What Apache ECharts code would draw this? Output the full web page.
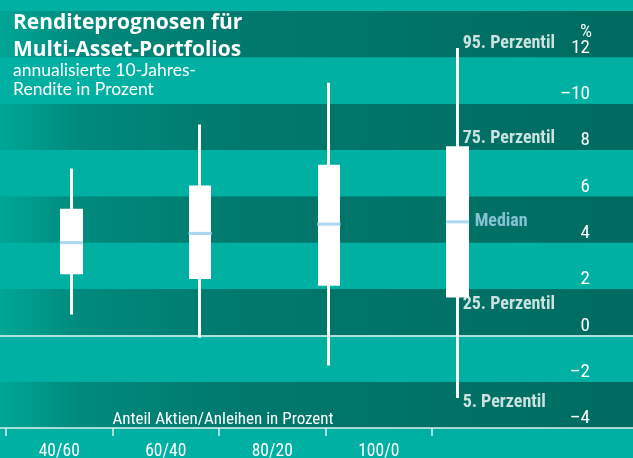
<!DOCTYPE html>
<html>
<head>
<meta charset="utf-8">
<title>Renditeprognosen</title>
<script src="https://cdn.jsdelivr.net/npm/echarts@6/dist/echarts.min.js"></script>
<style>
  html, body { margin: 0; padding: 0; }
  #chart { width: 633px; height: 458px; }
</style>
</head>
<body>
<div id="chart"></div>
<script>
// Daten (annualisierte 10-Jahres-Rendite, %)
const categories = ['40/60', '60/40', '80/20', '100/0']
const p5 = [0.9, -0.1, -1.3, -2.7]
const p25 = [2.7, 2.5, 2.2, 1.7]
const median = [4.0, 4.4, 4.8, 4.9]
const p75 = [5.4, 6.4, 7.3, 8.1]
const p95 = [7.2, 9.1, 10.9, 12.4]
const yTicks = [-4, -2, 0, 2, 4, 6, 8, 10, 12]
const yTickLabels = ['–4', '–2', '0', '2', '4', '6', '8', '–10', '12']
const percentileNames = ['95. Perzentil', '75. Perzentil', 'Median', '25. Perzentil', '5. Perzentil']

const narrow = '"Liberation Sans Narrow", "Roboto Condensed", "DejaVu Sans Condensed", sans-serif'
const light = '#00B1A3'
const dark = new echarts.graphic.LinearGradient(0, 0, 1, 0, [
  { offset: 0, color: '#00A696' },
  { offset: 0.12, color: '#008B7E' },
  { offset: 0.35, color: '#007A6E' },
  { offset: 0.65, color: '#007367' },
  { offset: 1, color: '#006B60' }
])

// Beschriftung am letzten Boxplot (100/0)
const last = categories.length - 1
const noteValues = [p95[last], p75[last], median[last], p25[last], p5[last]]
const noteOffsets = [[5, -5], [5, -9], [17, 0], [5, 9], [5, 5]]
const noteData = percentileNames.map((name, i) => ({
  name: name,
  value: [last, noteValues[i]],
  label: {
    offset: noteOffsets[i],
    color: name === 'Median' ? '#A9D7F0' : '#fff'
  }
}))

const chart = echarts.init(document.getElementById('chart'))

const option = {
  backgroundColor: light,
  animation: false,
  title: [
    {
      text: 'Renditeprognosen für\nMulti-Asset-Portfolios',
      left: 8,
      top: 5,
      textStyle: {
        color: '#fff',
        fontFamily: 'Open Sans',
        fontWeight: 'bold',
        fontSize: 21,
        lineHeight: 27
      }
    },
    {
      text: 'annualisierte 10-Jahres-\nRendite in Prozent',
      left: 8,
      top: 56,
      textStyle: {
        color: '#fff',
        fontFamily: 'Lato',
        fontWeight: 'normal',
        fontSize: 17.5,
        lineHeight: 19
      }
    },
    {
      text: '%',
      left: 575,
      top: 18,
      textStyle: {
        color: '#fff',
        fontFamily: narrow,
        fontWeight: 'normal',
        fontSize: 19
      }
    },
    {
      // Achsentitel
      text: 'Anteil Aktien/Anleihen in Prozent',
      left: 218,
      textAlign: 'center',
      top: 406,
      textStyle: {
        color: '#fff',
        fontFamily: narrow,
        fontWeight: 'normal',
        fontSize: 17
      }
    }
  ],
  grid: [
    // Hintergrund, y-Achse, Nulllinie
    { left: 0, right: 0, top: 11, bottom: 30, outerBoundsMode: 'none' },
    // Boxplots
    { left: 7, right: 111, top: 11, bottom: 30, outerBoundsMode: 'none' },
    // Kategorien
    { left: 6, right: 201, top: 11, bottom: 30, outerBoundsMode: 'none' }
  ],
  xAxis: [
    {
      gridIndex: 0,
      type: 'value',
      position: 'top',
      axisLine: { show: true, onZero: true, lineStyle: { color: '#E6F5F3', width: 1.5 } },
      axisTick: { show: false },
      axisLabel: { show: false },
      splitLine: { show: false }
    },
    {
      gridIndex: 0,
      type: 'value',
      position: 'bottom',
      axisLine: { show: true, onZero: false, lineStyle: { color: '#DDF0EE', width: 1.5 } },
      axisTick: { show: false },
      axisLabel: { show: false },
      splitLine: { show: false }
    },
    {
      gridIndex: 1,
      type: 'category',
      data: categories,
      show: false
    },
    {
      gridIndex: 2,
      type: 'category',
      position: 'bottom',
      data: categories,
      axisLine: { show: false, onZero: false },
      axisTick: { show: true, length: 8, lineStyle: { color: '#DDF0EE', width: 1.5 } },
      axisLabel: {
        color: '#fff',
        fontFamily: narrow,
        fontSize: 17.5,
        margin: 15
      }
    }
  ],
  yAxis: [
    {
      gridIndex: 0,
      type: 'value',
      position: 'right',
      min: -4,
      max: 14,
      interval: 2,
      axisLine: { show: false },
      axisTick: { show: false },
      splitLine: { show: false },
      splitArea: {
        show: true,
        areaStyle: { color: [dark, light] }
      },
      axisLabel: {
        inside: true,
        margin: 43,
        align: 'right',
        verticalAlign: 'bottom',
        color: '#fff',
        fontFamily: narrow,
        fontSize: 19,
        formatter: function (v) {
          const i = yTicks.indexOf(v)
          return i >= 0 ? yTickLabels[i] : ''
        }
      }
    },
    {
      gridIndex: 1,
      type: 'value',
      min: -4,
      max: 14,
      interval: 2,
      show: false
    },
    {
      gridIndex: 2,
      type: 'value',
      min: 0,
      max: 1,
      show: false
    }
  ],
  series: [
    {
      name: 'Spanne',
      type: 'candlestick',
      xAxisIndex: 2,
      yAxisIndex: 1,
      barWidth: 20,
      itemStyle: {
        color: '#fff',
        color0: '#fff',
        borderColor: '#fff',
        borderColor0: '#fff',
        borderWidth: 3
      },
      data: categories.map((c, i) => [p25[i], p75[i], p5[i], p95[i]])
    },
    {
      name: 'Median',
      type: 'scatter',
      xAxisIndex: 2,
      yAxisIndex: 1,
      symbol: 'rect',
      symbolSize: [23, 3],
      itemStyle: { color: '#A9D7F0', opacity: 1 },
      data: categories.map((c, i) => [i, median[i]])
    },
    {
      name: 'Perzentile',
      type: 'scatter',
      xAxisIndex: 2,
      yAxisIndex: 1,
      symbolSize: 0,
      label: {
        show: true,
        position: 'right',
        distance: 0,
        align: 'left',
        verticalAlign: 'middle',
        fontFamily: narrow,
        fontWeight: 'bold',
        fontSize: 18,
        formatter: '{b}'
      },
      data: noteData
    }
  ]
}

chart.setOption(option)
</script>
</body>
</html>
